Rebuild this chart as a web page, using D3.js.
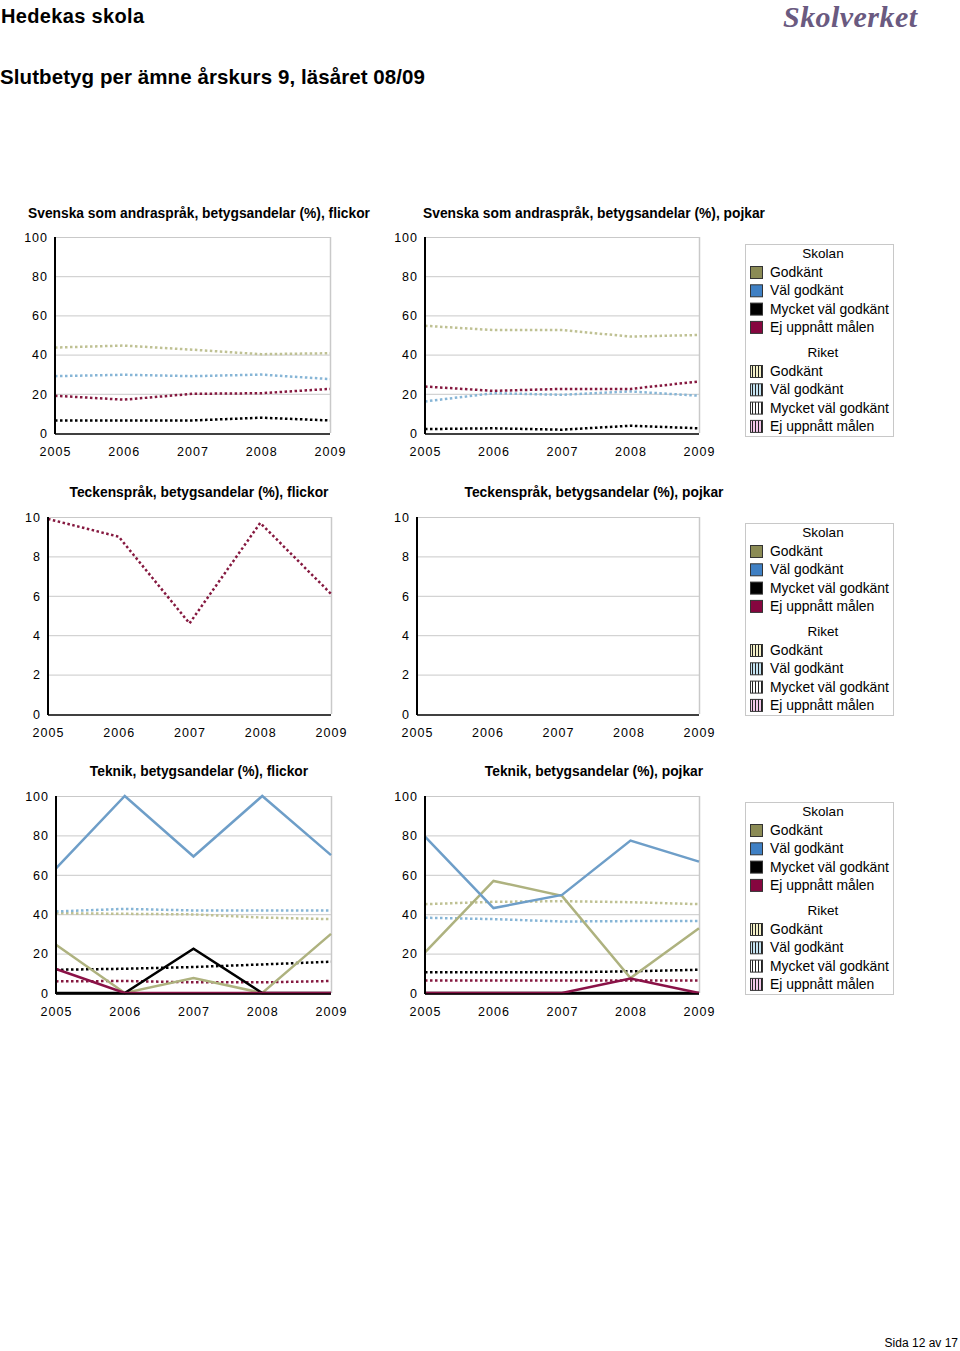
<!DOCTYPE html>
<html><head><meta charset="utf-8">
<script src="https://cdn.jsdelivr.net/npm/d3@7"></script>
<style>
body{margin:0;background:#fff;}
svg{display:block;}
</style></head>
<body>
<svg id="c" width="960" height="1351"></svg>
<script>
// ---------- DATA ----------
const years = [2005, 2006, 2007, 2008, 2009];
const categories = ["Godkänt", "Väl godkänt", "Mycket väl godkänt", "Ej uppnått målen"];
const legendGroups = ["Skolan", "Riket"];
const yTicks100 = [0, 20, 40, 60, 80, 100];
const yTicks10 = [0, 2, 4, 6, 8, 10];

const chartTitles = [
  "Svenska som andraspråk, betygsandelar (%), flickor",
  "Svenska som andraspråk, betygsandelar (%), pojkar",
  "Teckenspråk, betygsandelar (%), flickor",
  "Teckenspråk, betygsandelar (%), pojkar",
  "Teknik, betygsandelar (%), flickor",
  "Teknik, betygsandelar (%), pojkar"
];

// Svenska som andraspråk, flickor (Riket only)
const svaFlickorRiketG   = [43.6, 44.6, 42.5, 40.2, 40.7];
const svaFlickorRiketVG  = [29.0, 29.7, 29.0, 29.8, 27.5];
const svaFlickorRiketMVG = [6.4, 6.4, 6.4, 7.8, 6.4];
const svaFlickorRiketEj  = [19.0, 17.0, 20.0, 20.3, 22.5];

// Svenska som andraspråk, pojkar (Riket only)
const svaPojkarRiketG   = [54.7, 52.5, 52.5, 49.2, 50.0];
const svaPojkarRiketVG  = [16.1, 20.3, 19.5, 21.2, 19.0];
const svaPojkarRiketMVG = [2.0, 2.4, 1.7, 3.7, 2.4];
const svaPojkarRiketEj  = [23.7, 21.5, 22.5, 22.5, 26.3];

// Teckenspråk, flickor (Riket, Ej uppnått only)
const tspFlickorRiketEj = [9.9, 9.0, 4.6, 9.7, 6.1];

// Teknik, flickor
const tekFlickorSkolanG   = [24.5, 0, 7.6, 0, 30.0];
const tekFlickorSkolanVG  = [63.3, 100, 69.3, 100, 70.0];
const tekFlickorSkolanMVG = [0, 0, 22.5, 0, 0];
const tekFlickorSkolanEj  = [12.2, 0, 0, 0, 0];
const tekFlickorRiketG    = [40.5, 40.2, 39.9, 38.3, 37.5];
const tekFlickorRiketVG   = [41.4, 42.7, 41.9, 41.9, 41.9];
const tekFlickorRiketMVG  = [11.8, 12.3, 13.2, 14.5, 15.9];
const tekFlickorRiketEj   = [5.9, 6.1, 5.4, 5.4, 6.1];

// Teknik, pojkar
const tekPojkarSkolanG   = [20.6, 56.9, 49.3, 7.6, 32.9];
const tekPojkarSkolanVG  = [79.4, 43.1, 49.8, 77.4, 66.7];
const tekPojkarSkolanMVG = [0, 0, 0, 0, 0];
const tekPojkarSkolanEj  = [0, 0, 0, 7.3, 0];
const tekPojkarRiketG    = [45.1, 46.3, 46.6, 46.1, 45.1];
const tekPojkarRiketVG   = [38.2, 37.5, 36.3, 36.5, 36.5];
const tekPojkarRiketMVG  = [10.5, 10.5, 10.5, 11.0, 11.8];
const tekPojkarRiketEj   = [6.4, 6.4, 6.4, 6.4, 6.4];

// ---------- STYLE ----------
const solidColors  = ["#aeb27f", "#6e9ec8", "#000000", "#8a1247"];
const dottedColors = ["#bfc193", "#86b5d6", "#000000", "#85183f"];
const swatchFill   = ["#8b8b55", "#3f80c4", "#000000", "#86063f"];
const stripeBg     = ["#f3f0c8", "#c6e4f2", "#ffffff", "#f3c8ea"];

const charts = [
  {title: chartTitles[0], x0: 55, x1: 330, y0: 237, y1: 433, ticks: yTicks100, tx: 199, ty: 218,
   skolan: [null, null, null, null], riket: [svaFlickorRiketG, svaFlickorRiketVG, svaFlickorRiketMVG, svaFlickorRiketEj]},
  {title: chartTitles[1], x0: 425, x1: 699, y0: 237, y1: 433, ticks: yTicks100, tx: 594, ty: 218,
   skolan: [null, null, null, null], riket: [svaPojkarRiketG, svaPojkarRiketVG, svaPojkarRiketMVG, svaPojkarRiketEj]},
  {title: chartTitles[2], x0: 48, x1: 331, y0: 517, y1: 714, ticks: yTicks10, tx: 199, ty: 497,
   skolan: [null, null, null, null], riket: [null, null, null, tspFlickorRiketEj]},
  {title: chartTitles[3], x0: 417, x1: 699, y0: 517, y1: 714, ticks: yTicks10, tx: 594, ty: 497,
   skolan: [null, null, null, null], riket: [null, null, null, null]},
  {title: chartTitles[4], x0: 56, x1: 331, y0: 796, y1: 993, ticks: yTicks100, tx: 199, ty: 776,
   skolan: [tekFlickorSkolanG, tekFlickorSkolanVG, tekFlickorSkolanMVG, tekFlickorSkolanEj],
   riket: [tekFlickorRiketG, tekFlickorRiketVG, tekFlickorRiketMVG, tekFlickorRiketEj]},
  {title: chartTitles[5], x0: 425, x1: 699, y0: 796, y1: 993, ticks: yTicks100, tx: 594, ty: 776,
   skolan: [tekPojkarSkolanG, tekPojkarSkolanVG, tekPojkarSkolanMVG, tekPojkarSkolanEj],
   riket: [tekPojkarRiketG, tekPojkarRiketVG, tekPojkarRiketMVG, tekPojkarRiketEj]}
];
const legendTops = [244, 523, 802];

const svg = d3.select("#c");
const FONT = "'Liberation Sans', Arial, sans-serif";

// header
svg.append("text").attr("x", 1).attr("y", 23).text("Hedekas skola")
  .attr("font-family", FONT).attr("font-weight", "bold").attr("font-size", 20).attr("fill", "#000")
  .attr("textLength", 143);
svg.append("text").attr("x", 0).attr("y", 84).text("Slutbetyg per ämne årskurs 9, läsåret 08/09")
  .attr("font-family", FONT).attr("font-weight", "bold").attr("font-size", 20.5).attr("fill", "#000")
  .attr("textLength", 425);
svg.append("text").attr("x", 783).attr("y", 27).text("Skolverket")
  .attr("font-family", "'Liberation Serif', serif").attr("font-style", "italic").attr("font-size", 30)
  .attr("font-weight", "bold").attr("fill", "#6a5a80").attr("textLength", 134);
svg.append("text").attr("x", 958).attr("y", 1347).attr("text-anchor", "end").text("Sida 12 av 17")
  .attr("font-family", FONT).attr("font-size", 12).attr("fill", "#000");

// stripe patterns
const defs = svg.append("defs");
categories.forEach((c, i) => {
  const p = defs.append("pattern").attr("id", "stripe" + i).attr("patternUnits", "userSpaceOnUse")
    .attr("width", 3).attr("height", 3).attr("x", 751).attr("y", 0);
  p.append("rect").attr("width", 3).attr("height", 3).attr("fill", stripeBg[i]);
  p.append("rect").attr("width", 1).attr("height", 3).attr("fill", "#222");
});

charts.forEach((ch, ci) => {
  const g = svg.append("g");
  const x = d3.scalePoint().domain(years).range([ch.x0, ch.x1]);
  const y = d3.scaleLinear().domain([0, d3.max(ch.ticks)]).range([ch.y1, ch.y0]);

  // title
  g.append("text").attr("x", ch.tx).attr("y", ch.ty).attr("text-anchor", "middle").text(ch.title)
    .attr("font-family", FONT).attr("font-weight", "bold").attr("font-size", 13.8).attr("fill", "#000");

  // grid
  g.selectAll(".grid").data(ch.ticks.filter(t => t > 0)).enter().append("line")
    .attr("x1", ch.x0).attr("x2", ch.x1).attr("y1", d => y(d) + 0.5).attr("y2", d => y(d) + 0.5)
    .attr("stroke", "#c9c9c9").attr("stroke-width", 1);
  g.append("line").attr("x1", ch.x1 + 0.5).attr("x2", ch.x1 + 0.5).attr("y1", ch.y0).attr("y2", ch.y1)
    .attr("stroke", "#c9c9c9").attr("stroke-width", 1.5);

  // y axis
  const yAxis = d3.axisLeft(y).tickValues(ch.ticks).tickSize(0).tickPadding(7).tickFormat(d3.format("d"));
  const ya = g.append("g").attr("transform", `translate(${ch.x0},0)`).call(yAxis);
  ya.select(".domain").remove();
  ya.selectAll("text").attr("font-family", FONT).attr("font-size", 12.5).attr("fill", "#000")
    .attr("letter-spacing", 1).attr("dy", "0.35em");

  // x axis
  const xAxis = d3.axisBottom(x).tickSize(0).tickPadding(14);
  const xa = g.append("g").attr("transform", `translate(0,${ch.y1})`).call(xAxis);
  xa.select(".domain").remove();
  xa.selectAll("text").attr("font-family", FONT).attr("font-size", 12.5).attr("fill", "#000")
    .attr("letter-spacing", 1);

  const line = d3.line().x((d, i) => x(years[i])).y(d => y(d));

  // riket dotted lines
  ch.riket.forEach((arr, k) => {
    if (!arr) return;
    g.append("path").attr("d", line(arr)).attr("fill", "none")
      .attr("stroke", dottedColors[k]).attr("stroke-width", 2.5)
      .attr("stroke-dasharray", "2.5,2.5");
  });
  // skolan solid lines
  ch.skolan.forEach((arr, k) => {
    if (!arr) return;
    g.append("path").attr("d", line(arr)).attr("fill", "none")
      .attr("stroke", solidColors[k]).attr("stroke-width", 2.5).attr("stroke-linejoin", "miter");
  });

  // axis lines
  g.append("line").attr("x1", ch.x0).attr("x2", ch.x0).attr("y1", ch.y0).attr("y2", ch.y1 + 1)
    .attr("stroke", "#000").attr("stroke-width", 2);
  g.append("line").attr("x1", ch.x0).attr("x2", ch.x1).attr("y1", ch.y1 + 1).attr("y2", ch.y1 + 1)
    .attr("stroke", "#000").attr("stroke-width", 1.5);
});

// legends
legendTops.forEach(top => {
  const g = svg.append("g").attr("transform", `translate(745,${top})`);
  g.append("rect").attr("x", 0.5).attr("y", 0.5).attr("width", 148).attr("height", 192)
    .attr("fill", "#fff").attr("stroke", "#c8c8c8");
  legendGroups.forEach((grp, gi) => {
    const base = gi * 99;
    g.append("text").attr("x", 78).attr("y", base + 14).attr("text-anchor", "middle").text(grp)
      .attr("font-family", FONT).attr("font-size", 13.5).attr("fill", "#000");
    categories.forEach((c, i) => {
      const yy = base + 22 + i * 18.3;
      g.append("rect").attr("x", 5.5).attr("y", yy + 0.5).attr("width", 12).attr("height", 12)
        .attr("fill", gi === 0 ? swatchFill[i] : `url(#stripe${i})`)
        .attr("stroke", "#333").attr("stroke-width", 1);
      g.append("text").attr("x", 25).attr("y", yy + 11).text(c)
        .attr("font-family", FONT).attr("font-size", 13.9).attr("fill", "#000");
    });
  });
});
</script>
</body></html>
